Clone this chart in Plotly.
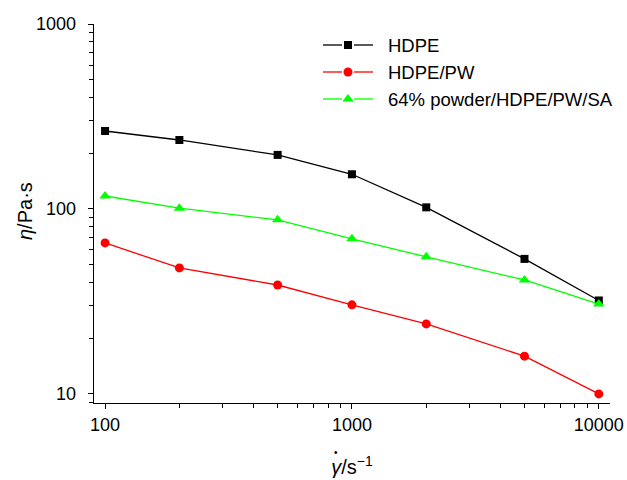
import plotly.graph_objects as go
import numpy as np

shear_rate = [100, 200, 500, 1000, 2000, 5000, 10000]
hdpe = [264, 236, 196, 154, 102, 53.7, 32]
hdpe_pw = [65.5, 48, 38.8, 30.3, 23.9, 16.0, 10]
powder = [117.5, 101, 87.3, 69, 55.1, 41.3, 30.6]

series_names = ["HDPE", "HDPE/PW", "64% powder/HDPE/PW/SA"]
x_ticks = [100, 1000, 10000]
y_ticks = [10, 100, 1000]

FONT = "Arial, Liberation Sans, sans-serif"

# plot box in pixels (styling)
L, R, T, B = 94, 17, 24, 77
W, H = 627, 480
PW, PH = W - L - R, H - T - B

def px_to_paper_x(px):
    return (px - L) / PW

def px_to_paper_y(py):
    return 1 - (py - T) / PH

def minor_vals(decades):
    return [k * 10 ** e for e in decades for k in range(2, 10)]

fig = go.Figure()
styles = [
    ("#000000", "square", 8),
    ("#FF0000", "circle", 9),
    ("#00FF00", "triangle-up", 10),
]
data = [hdpe, hdpe_pw, powder]
for name, ys, (col, sym, sz) in zip(series_names, data, styles):
    fig.add_trace(go.Scatter(
        x=shear_rate, y=ys, name=name, mode="lines+markers",
        line=dict(color=col, width=1.3),
        marker=dict(color=col, symbol=sym, size=sz, line=dict(width=0)),
        showlegend=False, cliponaxis=False,
    ))

# manual legend (line samples + markers + labels)
leg_rows = [45, 72, 99]
shapes = []
annotations = []
for (name, (col, sym, sz), ry) in zip(series_names, styles, leg_rows):
    yy = px_to_paper_y(ry)
    for x0, x1 in [(323, 342), (354, 373)]:
        shapes.append(dict(type="line", xref="paper", yref="paper",
                           x0=px_to_paper_x(x0), x1=px_to_paper_x(x1), y0=yy, y1=yy,
                           line=dict(color=col, width=1.3)))
    fig.add_trace(go.Scatter(
        x=[px_to_paper_x(348)], y=[yy], mode="markers", xaxis="x2", yaxis="y2",
        marker=dict(color=col, symbol=sym, size=sz, line=dict(width=0)),
        showlegend=False, hoverinfo="skip", cliponaxis=False,
    ))
    annotations.append(dict(text=name, xref="paper", yref="paper",
                            x=px_to_paper_x(386), y=yy, xanchor="left", yanchor="middle",
                            showarrow=False, font=dict(family=FONT, size=18.5, color="black")))

# y tick labels (placed further from the axis, as in the reference)
for v in y_ticks:
    annotations.append(dict(text=str(v), xref="paper", yref="y",
                            x=px_to_paper_x(78), y=np.log10(v),
                            xanchor="right", yanchor="middle", showarrow=False,
                            font=dict(family=FONT, size=18, color="black")))

# dot above gamma
annotations.append(dict(text="•", xref="paper", yref="paper",
                        x=px_to_paper_x(336), y=px_to_paper_y(452),
                        xanchor="center", yanchor="middle", showarrow=False,
                        font=dict(family=FONT, size=10, color="black")))
# y-axis title
annotations.append(dict(text="<i>η</i>/Pa·s", xref="paper", yref="paper",
                        x=px_to_paper_x(25), y=px_to_paper_y(211), textangle=-90,
                        xanchor="center", yanchor="middle", showarrow=False,
                        font=dict(family=FONT, size=20, color="black")))

axis_common = dict(
    type="log", showgrid=False, zeroline=False, automargin=False,
    showline=True, linecolor="black", linewidth=1.3,
    ticks="outside", ticklen=5, tickwidth=1.3, tickcolor="black",
    tickfont=dict(family=FONT, size=18, color="black"),
)

fig.update_layout(
    width=W, height=H,
    margin=dict(l=L, r=R, t=T, b=B),
    paper_bgcolor="white", plot_bgcolor="white",
    font=dict(family=FONT, size=18, color="black"),
    xaxis=dict(
        **axis_common,
        range=[np.log10(90.2), np.log10(11100)],
        tickmode="array", tickvals=x_ticks, ticktext=[str(v) for v in x_ticks],
        minor=dict(ticks="outside", ticklen=4, tickwidth=1.3, tickcolor="black",
                   showgrid=False, tickmode="array", tickvals=minor_vals([1, 2, 3, 4])),
        title=dict(text="<i>γ</i>/s<sup>−1</sup>", font=dict(family=FONT, size=20), standoff=26),
    ),
    yaxis=dict(
        **axis_common,
        range=[np.log10(8.93), 3],
        tickmode="array", tickvals=y_ticks, showticklabels=False,
        minor=dict(ticks="outside", ticklen=4, tickwidth=1.3, tickcolor="black",
                   showgrid=False, tickmode="array", tickvals=minor_vals([0, 1, 2])),
    ),
    xaxis2=dict(overlaying="x", range=[0, 1], visible=False, fixedrange=True),
    yaxis2=dict(overlaying="y", range=[0, 1], visible=False, fixedrange=True),
    shapes=shapes,
    annotations=annotations,
    showlegend=False,
)

fig.write_html("out.html", post_script="document.body.style.margin='0';",
               config={"displayModeBar": False})
